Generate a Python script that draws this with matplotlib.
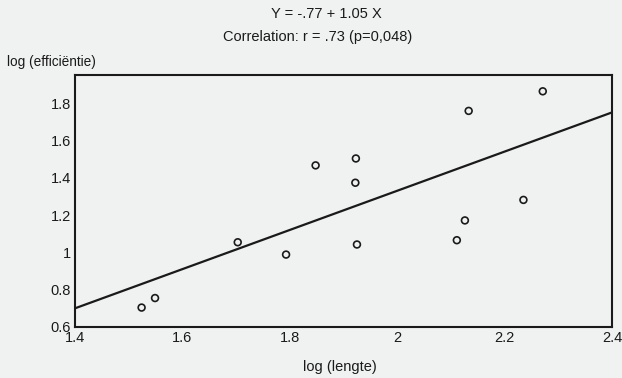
import matplotlib
matplotlib.use("Agg")
import matplotlib.pyplot as plt
from matplotlib.ticker import FuncFormatter
import numpy as np

plt.rcParams['font.family'] = ['Liberation Sans', 'DejaVu Sans']

# log(length) vs log(efficiency) observations
log_lengte = [1.524, 1.549, 1.703, 1.793, 1.848, 1.923, 1.922, 1.925,
              2.111, 2.126, 2.133, 2.235, 2.271]
log_efficientie = [0.704, 0.755, 1.054, 0.988, 1.466, 1.503, 1.373, 1.042,
                   1.065, 1.171, 1.758, 1.281, 1.863]

# fitted regression
intercept = -0.77
slope = 1.05

x_ticks = [1.4, 1.6, 1.8, 2.0, 2.2, 2.4]
y_ticks = [0.6, 0.8, 1.0, 1.2, 1.4, 1.6, 1.8]

bg = '#f0f2f1'
ink = '#1a1a1a'
fs = 10.5

fig = plt.figure(figsize=(6.22, 3.78), dpi=100, facecolor=bg)
ax = fig.add_axes([0.1206, 0.135, 0.8634, 0.6664], facecolor=bg)

ax.scatter(log_lengte, log_efficientie, s=24, facecolors='none',
           edgecolors=ink, linewidths=1.2, zorder=3)

xs = np.array([x_ticks[0], x_ticks[-1]])
ax.plot(xs, intercept + slope * xs, color=ink, lw=1.6, zorder=2)

ax.set_xlim(1.4, 2.4)
ax.set_ylim(0.6, 1.95)
ax.set_xticks(x_ticks)
ax.set_yticks(y_ticks)
fmt = FuncFormatter(lambda v, p: f"{v:g}")
ax.xaxis.set_major_formatter(fmt)
ax.yaxis.set_major_formatter(fmt)
ax.tick_params(length=0, labelsize=fs, colors=ink, pad=3)
for s in ax.spines.values():
    s.set_color(ink)
    s.set_linewidth(1.5)

fig.text(0.525, 0.963, "Y = -.77 + 1.05 X", ha='center', va='center',
         fontsize=fs, color=ink)
fig.text(0.51, 0.902, "Correlation: r = .73 (p=0,048)", ha='center',
         va='center', fontsize=fs, color=ink)
fig.text(0.012, 0.836, "log (efficiëntie)", ha='left', va='center',
         fontsize=9.8, color=ink)
fig.text(0.547, 0.03, "log (lengte)", ha='center', va='center',
         fontsize=fs, color=ink)

fig.savefig("out.png", dpi=100, facecolor=bg)
